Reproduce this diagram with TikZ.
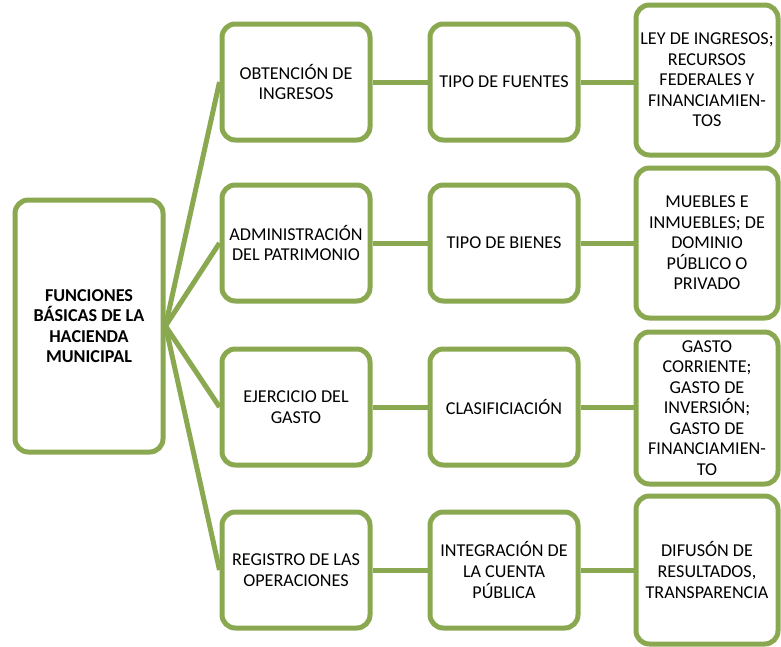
\documentclass[tikz,border=0pt]{standalone}
\usepackage{fontspec}
\setmainfont{Carlito}
\usepackage{xcolor}
\usepackage{tikz}
\usetikzlibrary{
  positioning,
  calc
}
\definecolor{hoja}{RGB}{138,168,80}

\begin{document}
\begin{tikzpicture}[x=0.75pt,y=-0.75pt,
    caja/.style={draw=hoja,line width=3.75pt,rounded corners=10pt,fill=white,
      align=center,inner sep=1pt,font=\fontsize{13.6pt}{15.4pt}\selectfont,
      minimum width=111pt,minimum height=87pt},
    cajaalta/.style={caja,minimum width=106.5pt,minimum height=112.5pt},
    enlace/.style={draw=hoja,line width=3.75pt}]
  % 枠
  \useasboundingbox (0,0) rectangle (781,646);

  % 根
  \node[caja,minimum height=189pt,font=\fontsize{13.6pt}{15.4pt}\selectfont\bfseries]
    (raiz) at (89,326) {FUNCIONES\\BÁSICAS DE LA\\HACIENDA\\MUNICIPAL};

  % 第1列
  \node[caja] (obt) at (296,82) {OBTENCIÓN DE\\INGRESOS};
  \node[caja] (adm) at (296,243) {ADMINISTRACIÓN\\DEL PATRIMONIO};
  \node[caja] (eje) at (296,407) {EJERCICIO DEL\\GASTO};
  \node[caja] (reg) at (296,570) {REGISTRO DE LAS\\OPERACIONES};

  % 第2列
  \node[caja] (fue) at (504,82) {TIPO DE FUENTES};
  \node[caja] (bie) at (504,243) {TIPO DE BIENES};
  \node[caja] (cla) at (504,407) {CLASIFICIACIÓN};
  \node[caja] (int) at (504,570) {INTEGRACIÓN DE\\LA CUENTA\\PÚBLICA};

  % 第3列
  \node[cajaalta] (ley) at (707,80)
    {LEY DE INGRESOS;\\RECURSOS\\FEDERALES Y\\FINANCIAMIEN-\\TOS};
  \node[cajaalta] (mue) at (707,243)
    {MUEBLES E\\INMUEBLES; DE\\DOMINIO\\PÚBLICO O\\PRIVADO};
  \node[cajaalta,minimum height=114pt] (gas) at (707,408)
    {GASTO\\CORRIENTE;\\GASTO DE\\INVERSIÓN;\\GASTO DE\\FINANCIAMIEN-\\TO};
  \node[cajaalta,minimum height=111pt] (dif) at (707,570)
    {DIFUSÓN DE\\RESULTADOS,\\TRANSPARENCIA};

  % 連結線
  \draw[enlace] (raiz.east) -- (obt.west);
  \draw[enlace] (raiz.east) -- (adm.west);
  \draw[enlace] (raiz.east) -- (eje.west);
  \draw[enlace] (raiz.east) -- (reg.west);
  \draw[enlace] (obt) -- (fue);
  \draw[enlace] (adm) -- (bie);
  \draw[enlace] (eje) -- (cla);
  \draw[enlace] (reg) -- (int);
  \draw[enlace] (fue.east) -- (fue.east -| ley.west);
  \draw[enlace] (bie.east) -- (bie.east -| mue.west);
  \draw[enlace] (cla.east) -- (cla.east -| gas.west);
  \draw[enlace] (int.east) -- (int.east -| dif.west);
\end{tikzpicture}
\end{document}
